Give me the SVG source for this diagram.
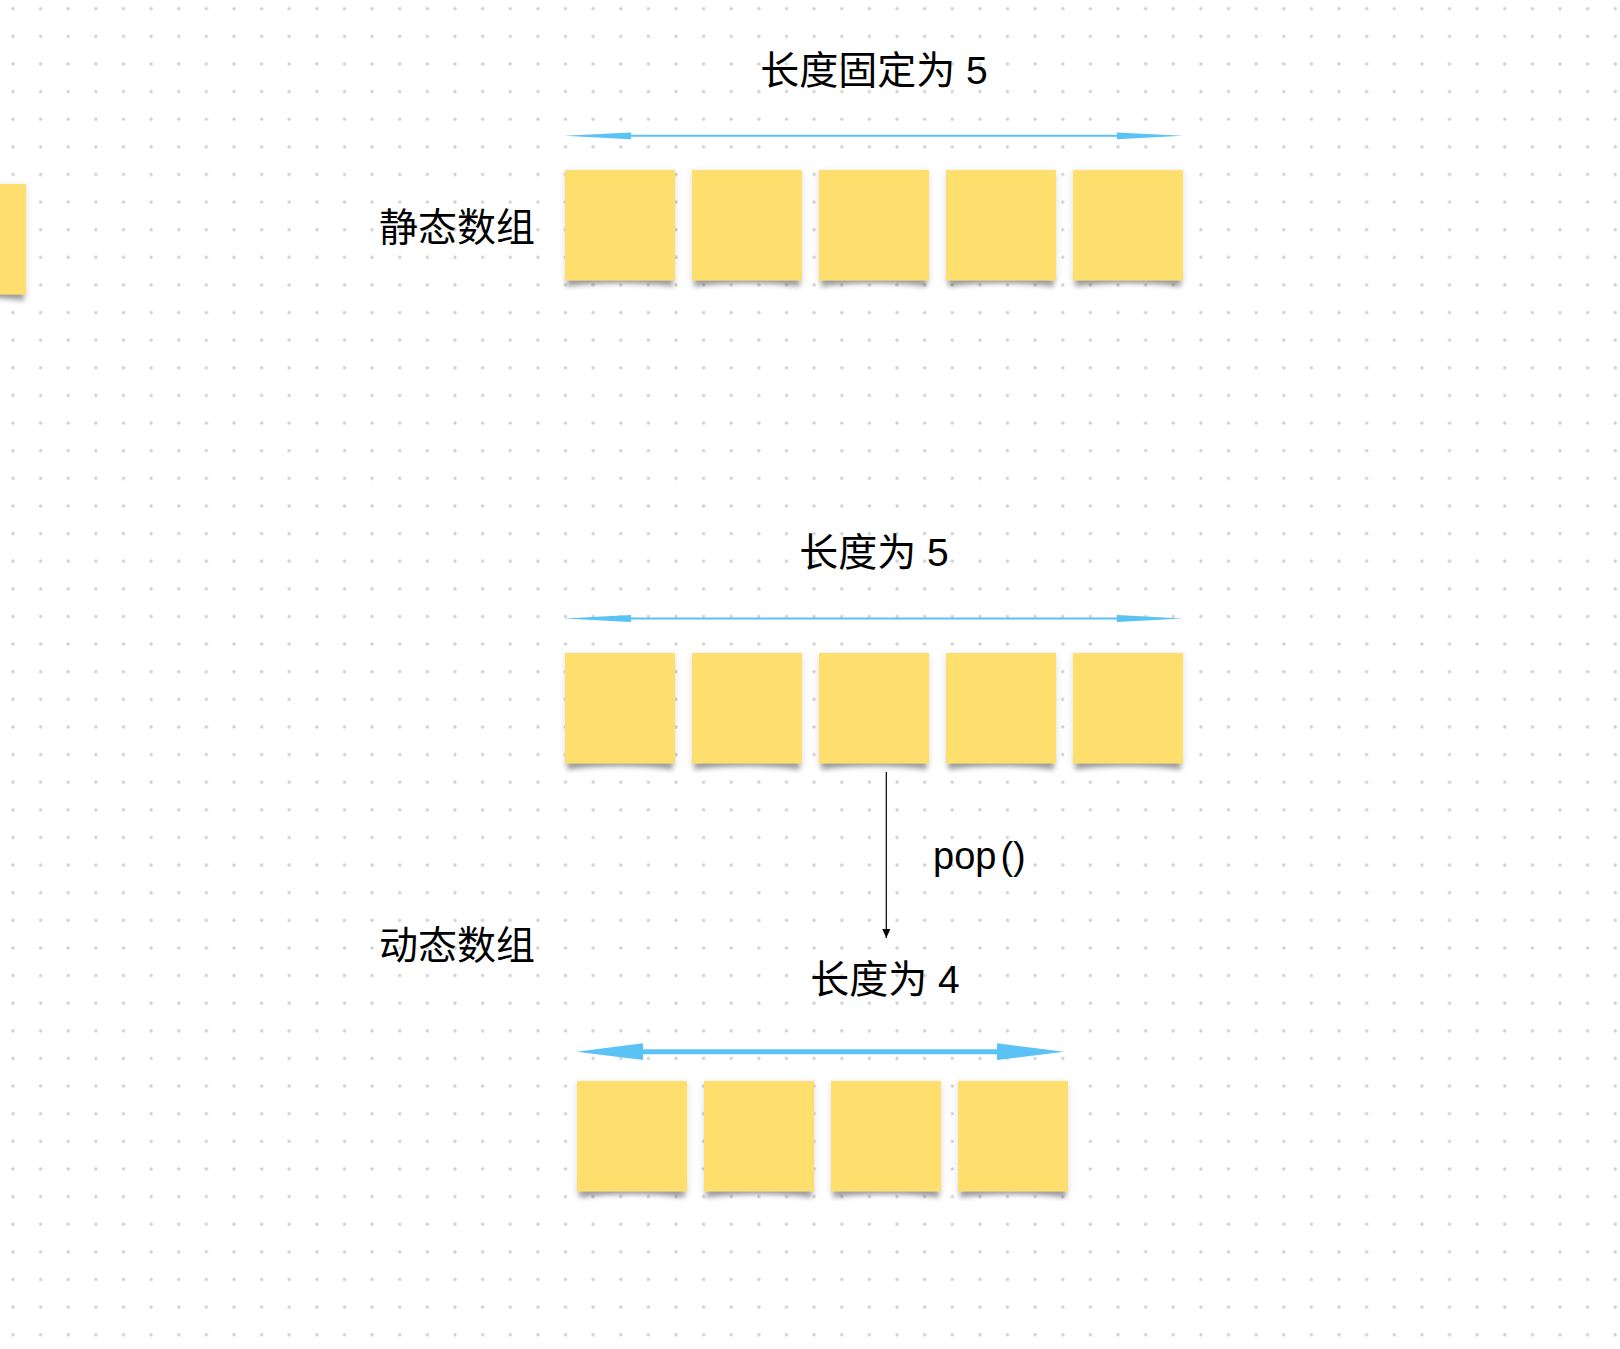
<svg xmlns="http://www.w3.org/2000/svg" xmlns:xlink="http://www.w3.org/1999/xlink" width="1620" height="1349" viewBox="0 0 1620 1349">
<style>
.lbl{font-family:"Liberation Sans","Noto Sans CJK SC",sans-serif;font-size:39px;fill:#000;}
.code{font-family:"Liberation Sans","Noto Sans CJK SC",sans-serif;font-size:38px;fill:#000;}
.blue{stroke:#5AC2F5;fill:none;}
.bluefill{fill:#5AC2F5;}
.note{fill:#FEDF6E;}
</style>
<defs>
<pattern id="dots" patternUnits="userSpaceOnUse" x="-0.81" y="-5.11" width="27.625" height="27.625">
<circle cx="13.8125" cy="13.8125" r="1.7" fill="#cfcfcf"/>
</pattern>
<filter id="curl" x="-20%" y="-50%" width="140%" height="200%">
<feGaussianBlur stdDeviation="2.5"/>
</filter>
<filter id="soft" x="-20%" y="-20%" width="140%" height="150%">
<feDropShadow dx="0" dy="2" stdDeviation="3.5" flood-color="#000" flood-opacity="0.14"/>
</filter>
<g id="sticky">
<path d="M3,104 L107,104 L108,117 Q55,109 2,117 Z" fill="#000" opacity="0.32" filter="url(#curl)"/>
<rect class="note" x="0" y="0" width="110" height="110.5" filter="url(#soft)"/>
</g>
<marker id="pophead" markerWidth="9" markerHeight="8" refX="9" refY="4" orient="auto" markerUnits="userSpaceOnUse" viewBox="0 0 9 8">
<path d="M0,0 L9,4 L0,8 Z" fill="#000"/>
</marker>
</defs>
<rect width="1620" height="1349" fill="#ffffff"/>
<rect width="1620" height="1349" fill="url(#dots)"/>

<g id="edge-sticky"><use xlink:href="#sticky" href="#sticky" x="-84" y="184"/></g>

<g id="label-static"><text class="lbl" x="457" y="241" text-anchor="middle">静态数组</text></g>
<g id="label-dynamic"><text class="lbl" x="457" y="959" text-anchor="middle">动态数组</text></g>
<g id="label-fixed5"><text class="lbl" x="874" y="84" text-anchor="middle">长度固定为 5</text></g>
<g id="label-len5"><text class="lbl" x="874" y="566" text-anchor="middle">长度为 5</text></g>
<g id="label-len4"><text class="lbl" x="885" y="993" text-anchor="middle">长度为 4</text></g>
<g id="label-pop"><text class="code" x="933" y="869">pop<tspan dx="4">()</tspan></text></g>

<g id="static-1"><use xlink:href="#sticky" href="#sticky" x="565" y="170"/></g>
<g id="static-2"><use xlink:href="#sticky" href="#sticky" x="692" y="170"/></g>
<g id="static-3"><use xlink:href="#sticky" href="#sticky" x="819" y="170"/></g>
<g id="static-4"><use xlink:href="#sticky" href="#sticky" x="946" y="170"/></g>
<g id="static-5"><use xlink:href="#sticky" href="#sticky" x="1073" y="170"/></g>

<g id="dyn5-1"><use xlink:href="#sticky" href="#sticky" x="565" y="653"/></g>
<g id="dyn5-2"><use xlink:href="#sticky" href="#sticky" x="692" y="653"/></g>
<g id="dyn5-3"><use xlink:href="#sticky" href="#sticky" x="819" y="653"/></g>
<g id="dyn5-4"><use xlink:href="#sticky" href="#sticky" x="946" y="653"/></g>
<g id="dyn5-5"><use xlink:href="#sticky" href="#sticky" x="1073" y="653"/></g>

<g id="dyn4-1"><use xlink:href="#sticky" href="#sticky" x="577" y="1081"/></g>
<g id="dyn4-2"><use xlink:href="#sticky" href="#sticky" x="704" y="1081"/></g>
<g id="dyn4-3"><use xlink:href="#sticky" href="#sticky" x="831" y="1081"/></g>
<g id="dyn4-4"><use xlink:href="#sticky" href="#sticky" x="958" y="1081"/></g>

<g id="connectors">
<line class="blue" x1="628" y1="135.8" x2="1120" y2="135.8" stroke-width="2"/>
<polygon class="bluefill" points="564,135.8 631,132.4 631,139.2"/>
<polygon class="bluefill" points="1183,135.8 1117,132.4 1117,139.2"/>
<line class="blue" x1="628" y1="618.5" x2="1120" y2="618.5" stroke-width="2"/>
<polygon class="bluefill" points="564,618.5 631,615.1 631,621.9"/>
<polygon class="bluefill" points="1183,618.5 1117,615.1 1117,621.9"/>
<line class="blue" x1="640" y1="1051.7" x2="1000" y2="1051.7" stroke-width="5"/>
<polygon class="bluefill" points="576.5,1051.7 643,1043.3 643,1060.1"/>
<polygon class="bluefill" points="1064,1051.7 997,1043.3 997,1060.1"/>
<line x1="886.3" y1="772" x2="886.3" y2="938" stroke="#000" stroke-width="1.2" marker-end="url(#pophead)"/>
</g>
</svg>
